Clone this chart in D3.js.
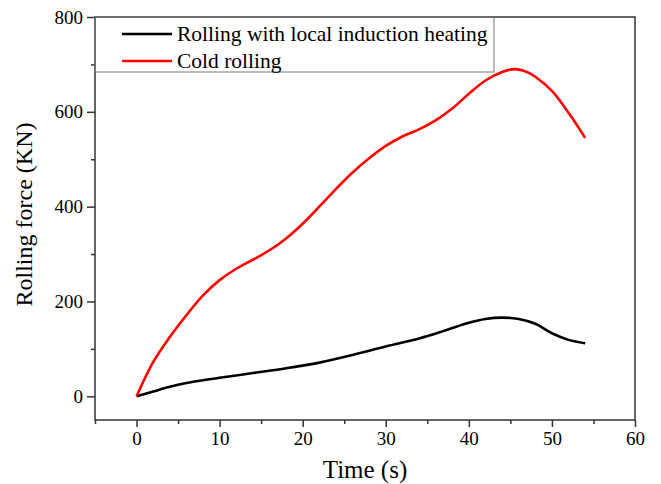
<!DOCTYPE html>
<html>
<head>
<meta charset="utf-8">
<script src="https://cdn.jsdelivr.net/npm/d3@7"></script>
<style>
  body { margin: 0; background: #fff; overflow: hidden; }
  svg { display: block; }
  text { font-family: "Liberation Serif", "Times New Roman", serif; fill: #000; }
</style>
</head>
<body>
<div id="myPlot"></div>
<script>
// Rolling force vs time
var seriesNames = ["Rolling with local induction heating", "Cold rolling"];
var seriesColors = ["#000000", "#ff0000"];

var heatedTime  = [0, 2, 4, 6, 8, 10, 14, 18, 22, 26, 30, 34, 37, 40, 42, 44, 46, 48, 50, 52, 54];
var heatedForce = [0, 10, 20, 28, 34, 39, 49, 59, 71, 87, 105, 122, 138, 155, 163, 166, 163, 153, 133, 119, 112];

var coldTime  = [0, 2, 4, 6, 8, 10, 12, 14, 16, 18, 20, 22, 24, 26, 28, 30, 32, 34, 36, 38, 40, 42, 44, 45.5, 47, 48, 50, 52, 54];
var coldForce = [0, 72, 125, 171, 213, 245, 269, 288, 308, 333, 364, 400, 437, 472, 502, 528, 548, 563, 582, 607, 638, 666, 684, 690, 684, 674, 644, 598, 545];

var xTicks = [0, 10, 20, 30, 40, 50, 60];
var xMinor = [-5, 5, 15, 25, 35, 45, 55];
var yTicks = [0, 200, 400, 600, 800];
var yMinor = [100, 300, 500, 700];

var svgWidth = 661;
var svgHeight = 484;
var margin = { top: 17, right: 26, bottom: 64, left: 95 };
var innerWidth = svgWidth - margin.left - margin.right;
var innerHeight = svgHeight - margin.top - margin.bottom;

var svg = d3.select("#myPlot").append("svg")
    .attr("width", svgWidth)
    .attr("height", svgHeight);

var g = svg.append("g")
    .attr("transform", `translate(${margin.left}, ${margin.top})`);

var xScale = d3.scaleLinear().domain([-5, 60]).range([0, innerWidth]);
var yScale = d3.scaleLinear().domain([-50, 800]).range([innerHeight, 0]);

// frame
g.append("rect")
    .attr("width", innerWidth)
    .attr("height", innerHeight)
    .attr("fill", "none")
    .attr("stroke", "#333")
    .attr("stroke-width", 1.5);

// axes
var xAxis = d3.axisBottom(xScale).tickValues(xTicks).tickSize(7).tickPadding(5).tickFormat(d3.format("d"));
var yAxis = d3.axisLeft(yScale).tickValues(yTicks).tickSize(8).tickPadding(4).tickFormat(d3.format("d"));

g.append("g").attr("transform", `translate(0, ${innerHeight})`).call(xAxis);
g.append("g").call(yAxis);

g.append("g").attr("transform", `translate(0, ${innerHeight})`)
    .call(d3.axisBottom(xScale).tickValues(xMinor).tickSize(4).tickFormat(""));
g.append("g")
    .call(d3.axisLeft(yScale).tickValues(yMinor).tickSize(4).tickFormat(""));

g.selectAll(".domain").remove();
g.selectAll(".tick line").attr("stroke", "#333").attr("stroke-width", 1.5);
g.selectAll(".tick text").style("font-size", "19px").style("font-family", "Liberation Serif");

// axis titles
g.append("text")
    .attr("x", xScale(27.5))
    .attr("y", innerHeight + 58)
    .attr("text-anchor", "middle")
    .style("font-size", "25px")
    .text("Time (s)");

g.append("text")
    .attr("transform", `translate(-63, ${innerHeight / 2 - 4}) rotate(-90)`)
    .attr("text-anchor", "middle")
    .style("font-size", "24px")
    .text("Rolling force (KN)");

// lines
var series = [
    { time: heatedTime, force: heatedForce },
    { time: coldTime, force: coldForce }
];

var line = d3.line()
    .x(d => xScale(d[0]))
    .y(d => yScale(d[1]))
    .curve(d3.curveCatmullRom.alpha(0.5));

series.forEach(function (s, i) {
    var pts = s.time.map((t, j) => [t, s.force[j]]);
    g.append("path")
        .datum(pts)
        .attr("fill", "none")
        .attr("stroke", seriesColors[i])
        .attr("stroke-width", 2.6)
        .attr("d", line);
});

// legend
var legend = g.append("g");
legend.append("rect")
    .attr("x", 0).attr("y", 0)
    .attr("width", 399).attr("height", 55)
    .attr("fill", "none")
    .attr("stroke", "#777")
    .attr("stroke-width", 1);

seriesNames.forEach(function (name, i) {
    var yy = 17 + i * 27;
    legend.append("line")
        .attr("x1", 27).attr("x2", 77)
        .attr("y1", yy).attr("y2", yy)
        .attr("stroke", seriesColors[i])
        .attr("stroke-width", 2.6);
    legend.append("text")
        .attr("x", 82)
        .attr("y", yy + 7)
        .style("font-size", "21.5px")
        .text(name);
});
</script>
</body>
</html>
